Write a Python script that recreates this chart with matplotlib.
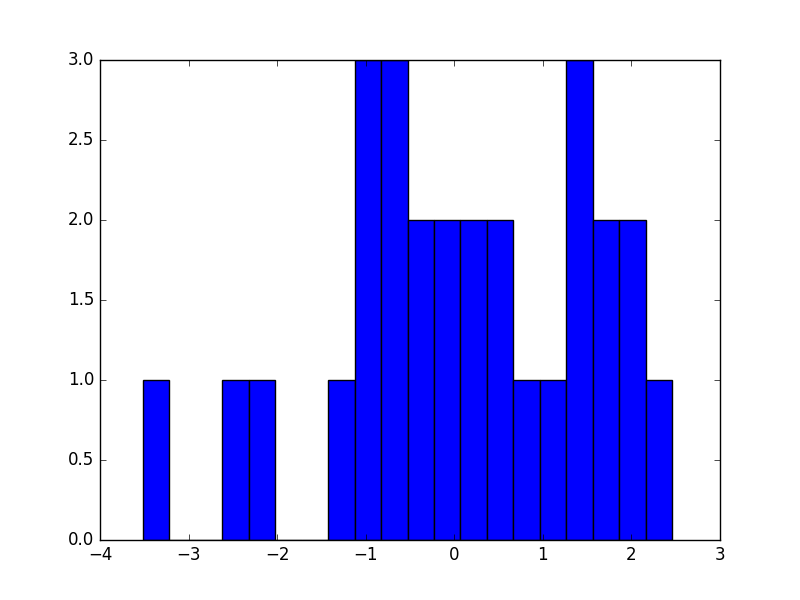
import numpy as np
import matplotlib
matplotlib.use("Agg")
import matplotlib.pyplot as plt

plt.style.use("classic")

# histogram: 20 equal bins
bin_min = -3.514
bin_max = 2.458
counts = [1, 0, 0, 1, 1, 0, 0, 1, 3, 3, 2, 2, 2, 2, 1, 1, 3, 2, 2, 1]

edges = np.linspace(bin_min, bin_max, len(counts) + 1)

fig, ax = plt.subplots(figsize=(8, 6), dpi=100)
ax.hist(edges[:-1], bins=edges, weights=counts, color="b", edgecolor="k")
ax.set_xlim(-4, 3)
ax.set_ylim(0, 3)

fig.savefig("out.png", dpi=100)
